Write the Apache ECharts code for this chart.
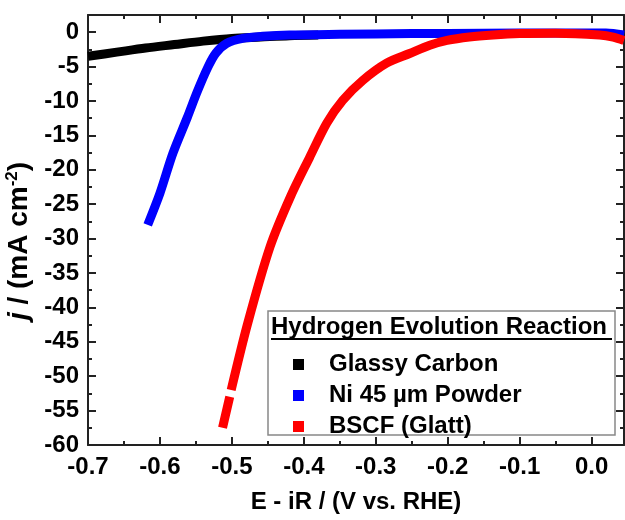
<!DOCTYPE html>
<html>
<head>
<meta charset="utf-8">
<script src="https://cdn.jsdelivr.net/npm/echarts@6/dist/echarts.min.js"></script>
<style>
  html, body { margin: 0; padding: 0; background: #fff; }
  #chart { width: 625px; height: 520px; }
</style>
</head>
<body>
<div id="chart"></div>
<script>
  // HER polarisation curves
  const glassyE = [-0.70, -0.66, -0.62, -0.58, -0.54, -0.50, -0.46, -0.42, -0.38];
  const glassyJ = [-3.5, -2.9, -2.3, -1.8, -1.3, -0.9, -0.7, -0.5, -0.4];

  const niE = [-0.617, -0.600, -0.582, -0.562, -0.548, -0.533, -0.522, -0.507, -0.485, -0.457, -0.420, -0.35, -0.25, -0.15, -0.05, 0.02, 0.045];
  const niJ = [-28.0, -23.4, -17.6, -12.4, -8.6, -5.0, -3.0, -1.6, -0.9, -0.6, -0.4, -0.3, -0.2, -0.15, -0.1, -0.1, -0.4];

  // null = small break in the measured trace near -52 mA cm-2
  const bscfE = [-0.513, -0.503, null, -0.501, -0.478, -0.447, -0.419, -0.392, -0.368, -0.346, -0.318, -0.285, -0.253, -0.225, -0.201, -0.170, -0.137, -0.100, -0.050, 0.011, 0.030, 0.045];
  const bscfJ = [-57.5, -53.0, null, -52.0, -42.3, -31.2, -24.0, -18.2, -13.2, -9.9, -7.0, -4.5, -3.1, -1.9, -1.2, -0.7, -0.4, -0.2, -0.15, -0.4, -0.7, -1.2];

  const seriesNames = ['Glassy Carbon', 'Ni 45 µm Powder', 'BSCF (Glatt)'];
  const seriesColors = ['#000000', '#0000ff', '#ff0000'];

  function pairs(xs, ys) {
    return xs.map((x, i) => (x === null || ys[i] === null) ? ['-', '-'] : [x, ys[i]]);
  }

  const FONT = 'Liberation Sans';
  const chart = echarts.init(document.getElementById('chart'));

  const tickStyle = { inside: true, length: 8, lineStyle: { color: '#222', width: 2 } };
  const minorStyle = { show: true, splitNumber: 2, length: 4, lineStyle: { color: '#222', width: 2 } };
  const lineStyle = { onZero: false, lineStyle: { color: '#222', width: 2 } };

  function makeLine(name, data, color) {
    return {
      name: name,
      type: 'line',
      data: data,
      smooth: 0.3,
      showSymbol: false,
      connectNulls: false,
      color: color,
      lineStyle: { color: color, width: 9, cap: 'butt', join: 'round' },
      animation: false
    };
  }

  chart.setOption({
    animation: false,
    grid: { left: 88, right: 1, top: 15, bottom: 75, outerBoundsMode: 'none' },
    xAxis: [{
      type: 'value',
      min: -0.7, max: 0.045, interval: 0.1,
      name: 'E - iR / (V vs. RHE)',
      nameLocation: 'middle',
      nameGap: 45,
      nameTextStyle: { fontFamily: FONT, fontWeight: 'bold', fontSize: 24, color: '#000' },
      axisLine: lineStyle,
      axisTick: tickStyle,
      minorTick: minorStyle,
      splitLine: { show: false },
      axisLabel: {
        fontFamily: FONT, fontWeight: 'bold', fontSize: 24, color: '#000', margin: 10,
        showMaxLabel: false,
        formatter: v => v.toFixed(1)
      }
    }, {
      type: 'value', position: 'top',
      min: -0.7, max: 0.045, interval: 0.1,
      axisLine: lineStyle, axisTick: tickStyle, minorTick: minorStyle,
      splitLine: { show: false }, axisLabel: { show: false }
    }],
    yAxis: [{
      type: 'value',
      min: -60, max: 2.5, interval: 5,
      name: '{it|j} / (mA cm{sup|-2})',
      nameLocation: 'middle',
      nameGap: 47,
      nameRotate: 90,
      nameTextStyle: {
        fontFamily: FONT, fontWeight: 'bold', fontSize: 28, color: '#000',
        padding: [0, 22, 0, 0],
        rich: {
          it: { fontFamily: FONT, fontWeight: 'bold', fontStyle: 'italic', fontSize: 28, color: '#000' },
          sup: { fontFamily: FONT, fontWeight: 'bold', fontSize: 17, color: '#000', verticalAlign: 'top', padding: [0, 0, 14, 0] }
        }
      },
      axisLine: lineStyle,
      axisTick: tickStyle,
      minorTick: minorStyle,
      splitLine: { show: false },
      axisLabel: {
        fontFamily: FONT, fontWeight: 'bold', fontSize: 24, color: '#000', margin: 9,
        showMaxLabel: false
      }
    }, {
      type: 'value', position: 'right',
      min: -60, max: 2.5, interval: 5,
      axisLine: lineStyle, axisTick: tickStyle, minorTick: minorStyle,
      splitLine: { show: false }, axisLabel: { show: false }
    }],
    legend: {
      data: seriesNames.map(n => ({ name: n, icon: 'rect' })),
      orient: 'vertical',
      left: 288, top: 347,
      itemWidth: 11, itemHeight: 11,
      itemGap: 6,
      z: 20,
      textStyle: { fontFamily: FONT, fontWeight: 'bold', fontSize: 24, color: '#000', lineHeight: 25, padding: [0, 0, 0, 20] }
    },
    graphic: [
      {
        type: 'rect', z: 15,
        shape: { x: 268, y: 311, width: 347, height: 124 },
        style: { fill: '#fff', stroke: '#888', lineWidth: 1.5 }
      },
      {
        type: 'text', z: 16,
        style: {
          text: 'Hydrogen Evolution Reaction',
          x: 271, y: 315,
          fontFamily: FONT, fontWeight: 'bold', fontSize: 24, fill: '#000',
          textVerticalAlign: 'top', verticalAlign: 'top'
        }
      },
      {
        type: 'line', z: 16,
        shape: { x1: 271, y1: 339, x2: 612, y2: 339 },
        style: { stroke: '#000', lineWidth: 2 }
      }
    ],
    series: [
      makeLine(seriesNames[0], pairs(glassyE, glassyJ), seriesColors[0]),
      makeLine(seriesNames[1], pairs(niE, niJ), seriesColors[1]),
      makeLine(seriesNames[2], pairs(bscfE, bscfJ), seriesColors[2])
    ]
  });
</script>
</body>
</html>
